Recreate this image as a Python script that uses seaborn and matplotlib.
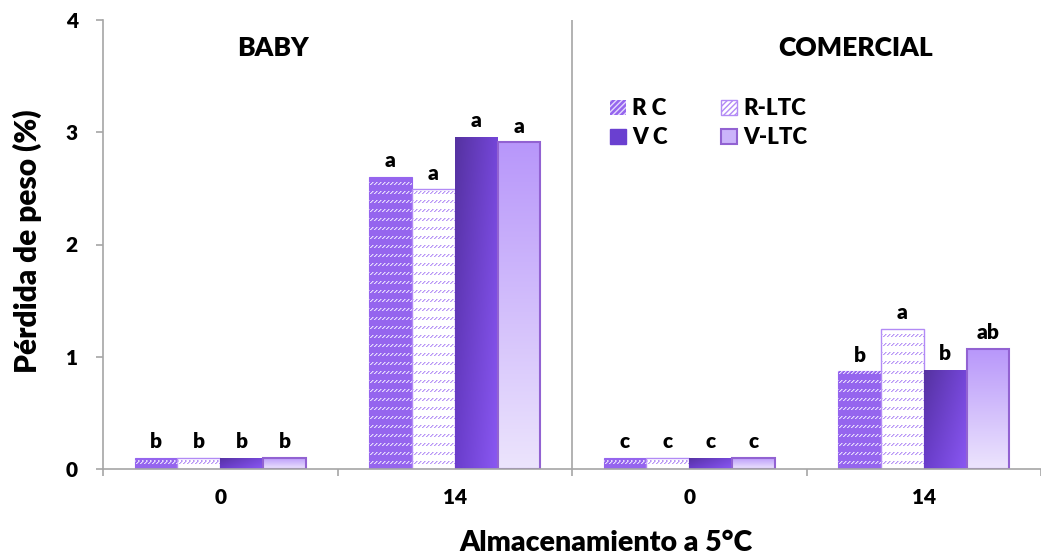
import numpy as np
import pandas as pd
import matplotlib
matplotlib.use("Agg")
import matplotlib.pyplot as plt
from matplotlib.patches import Patch
from matplotlib.colors import to_rgb
import seaborn as sns

# ---- data -------------------------------------------------------------
grupos = ["BABY 0", "BABY 14", "COMERCIAL 0", "COMERCIAL 14"]
etiquetas_x = ["0", "14", "0", "14"]
tratamientos = ["R C", "R-LTC", "V C", "V-LTC"]

perdida_rc = [0.10, 2.60, 0.10, 0.87]
perdida_rltc = [0.10, 2.49, 0.10, 1.25]
perdida_vc = [0.10, 2.96, 0.10, 0.88]
perdida_vltc = [0.10, 2.91, 0.10, 1.07]

letras_rc = ["b", "a", "c", "b"]
letras_rltc = ["b", "a", "c", "a"]
letras_vc = ["b", "a", "c", "b"]
letras_vltc = ["b", "a", "c", "ab"]

valores = [perdida_rc, perdida_rltc, perdida_vc, perdida_vltc]
letras = [letras_rc, letras_rltc, letras_vc, letras_vltc]

df = pd.DataFrame(
    [(g, t, v[i]) for t, v in zip(tratamientos, valores) for i, g in enumerate(grupos)],
    columns=["grupo", "tratamiento", "valor"],
)

# ---- style ------------------------------------------------------------
sns.set_style("white")
plt.rcParams["font.family"] = ["Lato", "DejaVu Sans"]
PESO = "heavy"
plt.rcParams["font.weight"] = PESO
for k in ["text.color", "axes.labelcolor", "xtick.labelcolor", "ytick.labelcolor"]:
    plt.rcParams[k] = "black"

GRIS = "#a6a6a6"
C_RC = "#9565ee"
C_RLTC = "#b28af5"
C_VLTC_EDGE = "#9262d2"

W, H = 1041, 558
fig = plt.figure(figsize=(W / 100, H / 100), dpi=100)
ax_l, ax_b, ax_t = 103, 469, 20
ax = fig.add_axes([ax_l / W, (H - ax_b) / H, (W - ax_l) / W, (ax_b - ax_t) / H])

ancho_cat = 236.0
xmax = -0.5 + (W - ax_l) / ancho_cat

sns.barplot(
    data=df, x="grupo", y="valor", hue="tratamiento",
    order=grupos, hue_order=tratamientos,
    palette=[C_RC, "white", "#6a40d0", "#cbb4fa"],
    width=0.73, saturation=1, legend=False, ax=ax, zorder=2,
)

ax.set_xlim(-0.5, xmax)
ax.set_ylim(0, 4)


def patron_rayas(color):
    """Rows of short upward-diagonal dashes on the axes pixel grid."""
    pw, ph = W - ax_l, ax_b - ax_t
    img = np.zeros((ph, pw, 4), dtype=np.uint8)
    r = np.arange(ph)[:, None]
    c = np.arange(pw)[None, :]
    rr = r % 9
    en_fila = rr < 3
    pos = (c + rr) % 4
    fuerte = en_fila & (pos == 3)
    suave = en_fila & (pos == 0)
    rgb = (np.array(to_rgb(color)) * 255).astype(np.uint8)
    img[fuerte | suave, :3] = rgb
    img[fuerte, 3] = 255
    img[suave, 3] = 140
    return img


def gradiente(c0, c1, c2, c3, n=64):
    """Bilinear gradient: c0 top-left, c1 top-right, c2 bottom-left, c3 bottom-right."""
    t = np.linspace(0, 1, n)
    u, v = np.meshgrid(t, t)
    a, b, c, d = (np.array(to_rgb(x)) for x in (c0, c1, c2, c3))
    return ((1 - u) * (1 - v))[..., None] * a + (u * (1 - v))[..., None] * b + \
           ((1 - u) * v)[..., None] * c + (u * v)[..., None] * d


tex_rc = patron_rayas("#e4d8fd")
tex_rltc = patron_rayas("#b896f6")
ext_ax = (-0.5, xmax, 0, 4)

for k, cont in enumerate(ax.containers):
    for i, bar in enumerate(cont):
        x0, y0 = bar.get_x(), bar.get_y()
        bw, bh = bar.get_width(), bar.get_height()
        ext = (x0, x0 + bw, y0, y0 + bh)
        if k == 0:
            bar.set_edgecolor(C_RC)
            bar.set_linewidth(0.8)
            im = ax.imshow(tex_rc, extent=ext_ax, aspect="auto",
                           interpolation="none", zorder=2.5)
            im.set_clip_path(bar)
        elif k == 1:
            bar.set_edgecolor(C_RLTC)
            bar.set_linewidth(1.0)
            im = ax.imshow(tex_rltc, extent=ext_ax, aspect="auto",
                           interpolation="none", zorder=2.5)
            im.set_clip_path(bar)
        elif k == 2:
            bar.set_linewidth(0)
            g = gradiente("#5532a0", "#7446d8", "#6a3dcc", "#8a58f2")
            im = ax.imshow(g, extent=ext, aspect="auto", interpolation="bilinear",
                           zorder=2.5)
            im.set_clip_path(bar)
        else:
            g = gradiente("#b897fa", "#b897fa", "#ece4fd", "#ece4fd")
            im = ax.imshow(g, extent=ext, aspect="auto", interpolation="bilinear",
                           zorder=2.5)
            im.set_clip_path(bar)
            bar.set_facecolor("none")
            bar.set_edgecolor(C_VLTC_EDGE)
            bar.set_linewidth(1.5)
            bar.set_zorder(3)

        ax.text(x0 + bw / 2, y0 + bh + 0.06, letras[k][i],
                ha="center", va="bottom", fontsize=15, fontweight=PESO, zorder=4)

ax.set_xlim(-0.5, xmax)
ax.set_ylim(0, 4)

# ---- axes & ticks ---------------------------------------------------------
for s in ["top", "right"]:
    ax.spines[s].set_visible(False)
for s in ["left", "bottom"]:
    ax.spines[s].set_color(GRIS)
    ax.spines[s].set_linewidth(1.2)
    ax.spines[s].set_zorder(5)

ax.set_yticks([0, 1, 2, 3, 4])
ax.set_yticklabels(["0", "1", "2", "3", "4"])
ax.tick_params(axis="y", direction="out", length=5, width=1.2, color=GRIS,
               pad=13, labelsize=15, left=True)
ax.set_xticks(range(4))
ax.set_xticklabels(etiquetas_x)
ax.set_xticks([-0.5, 0.5, 1.5, 2.5, 3.5], minor=True)
ax.tick_params(axis="x", which="major", length=0, pad=14, labelsize=15)
ax.tick_params(axis="x", which="minor", direction="out", length=5, width=1.2,
               color=GRIS, bottom=True)
for t in ax.get_xticklabels() + ax.get_yticklabels():
    t.set_fontweight(PESO)

ax.axvline(1.5, color=GRIS, lw=1.2, zorder=1)

ax.set_xlabel("Almacenamiento a 5°C", fontsize=20.5, fontweight=PESO)
ax.set_ylabel("Pérdida de peso (%)", fontsize=21.5, fontweight=PESO)
ax.xaxis.set_label_coords((606 - ax_l) / (W - ax_l), (ax_b - 543) / (ax_b - ax_t))
ax.xaxis.label.set_va("center")
ax.yaxis.set_label_coords((27 - ax_l) / (W - ax_l), (ax_b - 241) / (ax_b - ax_t))
ax.yaxis.label.set_va("center")

ax.text(0.225, 3.75, "BABY", ha="center", va="center", fontsize=19, fontweight=PESO)
ax.text(2.71, 3.75, "COMERCIAL", ha="center", va="center", fontsize=19, fontweight=PESO)

# ---- legend ---------------------------------------------------------------
handles = [
    Patch(facecolor=C_RC, edgecolor="#e4d8fd", hatch="//////", lw=0, label="R C"),
    Patch(facecolor="#6a40d0", edgecolor="#6a40d0", label="V C"),
    Patch(facecolor="white", edgecolor=C_RLTC, hatch="//////", lw=1, label="R-LTC"),
    Patch(facecolor="#cbb4fa", edgecolor=C_VLTC_EDGE, lw=1.5, label="V-LTC"),
]
leg = ax.legend(handles=handles, ncol=2, loc="upper left",
                bbox_to_anchor=(0.531, 0.845), frameon=False,
                prop={"size": 16, "weight": PESO},
                handlelength=0.7, handleheight=0.7, handletextpad=0.3,
                columnspacing=2.4, labelspacing=0.35, borderaxespad=0)

fig.savefig("out.png", dpi=100)
